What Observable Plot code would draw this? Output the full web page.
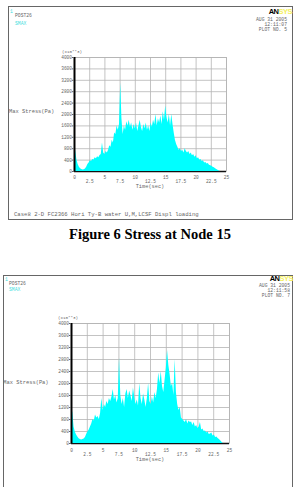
<!DOCTYPE html>
<html><head><meta charset="utf-8">
<script src="https://cdn.jsdelivr.net/npm/d3@7"></script>
<script src="https://cdn.jsdelivr.net/npm/@observablehq/plot@0.6"></script>
<style>
body{margin:0;width:295px;height:487px;position:relative;overflow:hidden;background:#fff;font-family:"Liberation Mono",monospace;}
.frame{position:absolute;border:1.5px solid #666;box-sizing:border-box;}
.t{position:absolute;white-space:nowrap;color:#666;line-height:1;}
.c{color:#4dd;}
.logo{position:absolute;font-family:"Liberation Sans",Arial,sans-serif;font-weight:bold;font-size:7.5px;line-height:1;letter-spacing:-0.5px;}
.chart{position:absolute;left:0;}
.cap{position:absolute;left:0;width:300px;text-align:center;font-family:"Liberation Serif","Times New Roman",serif;font-weight:bold;font-size:14.5px;line-height:1;color:#000;}
</style></head><body>
<script>
const times = [0,0.2,0.4,0.6,0.8,1,1.2,1.4,1.6,1.8,2,2.2,2.4,2.6,2.8,3,3.2,3.4,3.6,3.8,4,4.2,4.4,4.6,4.8,5,5.2,5.4,5.6,5.8,6,6.2,6.4,6.6,6.8,7,7.2,7.4,7.6,7.8,8,8.2,8.4,8.6,8.8,9,9.2,9.4,9.6,9.8,10,10.2,10.4,10.6,10.8,11,11.2,11.4,11.6,11.8,12,12.2,12.4,12.6,12.8,13,13.2,13.4,13.6,13.8,14,14.2,14.4,14.6,14.8,15,15.2,15.4,15.6,15.8,16,16.2,16.4,16.6,16.8,17,17.2,17.4,17.6,17.8,18,18.2,18.4,18.6,18.8,19,19.2,19.4,19.6,19.8,20,20.2,20.4,20.6,20.8,21,21.2,21.4,21.6,21.8,22,22.2,22.4,22.6,22.8,23,23.2,23.4,23.6,23.8,24];

const stress1 = [1000,700,400,250,150,100,70,50,60,90,
150,250,300,380,350,420,400,480,450,520,
480,560,600,1000,650,600,700,650,750,900,
850,1100,1000,1350,1300,1600,1450,1650,3100,1850,
1300,1600,1450,1750,1600,1800,1550,1700,1450,1650,
1500,1700,1400,1600,1800,1550,1400,1650,1500,1700,
1450,1600,1400,1700,1550,1800,1650,2000,1600,1850,
1700,1950,1650,2100,1800,2300,1900,1700,2000,1600,
2000,1650,1350,1100,950,850,750,800,700,750,
650,800,700,650,700,600,650,550,600,500,
550,450,480,400,420,350,380,300,320,260,
280,220,200,180,150,130,100,70,40,20,
0];

const stress2 = [1000,1050,550,380,280,220,160,130,120,130,
150,200,300,380,450,550,650,800,750,950,
850,900,800,1000,1500,1100,1300,1200,1400,1300,
1500,1400,1550,1800,1450,1600,1350,1500,2850,1600,
1300,1500,1200,1650,1800,1500,1750,1600,1400,1850,
1550,1300,1450,1250,2000,1500,1300,1650,1450,1200,
1500,2000,1400,1300,1550,1350,1700,1500,1800,2350,
2000,2400,1900,1700,2100,2500,3100,2600,2300,1900,
2000,1600,2800,1700,1300,1100,1200,850,800,750,
700,800,650,750,700,720,600,700,550,600,
500,550,700,450,480,400,420,350,380,300,
320,350,250,280,200,220,170,130,90,40,
0];

const yTicks = [0,400,800,1200,1600,2000,2400,2800,3200,3600,4000];
const xTicksMajor = [0,5,10,15,20,25];
const xTicksMinor = [2.5,7.5,12.5,17.5,22.5];
const xGrid = [0,2.5,5,7.5,10,12.5,15,17.5,20,22.5,25];

const yUnitLabel = "(x10**3)";
const yTitle = "Max Stress(Pa)";
const xTitle = "Time(sec)";
const caption = "Figure 6 Stress at Node 15";
const footer1 = "Case8 2-D FC2366 Hori Ty-B water U,M,LCSF Displ loading";
const dates = ["AUG 31 2005","AUG 31 2005"];
const clock = ["12:11:07","12:11:58"];
const plotNo = ["PLOT NO.   5","PLOT NO.   7"];

function el(tag, cls, text, css) {
  const e = document.createElement(tag);
  if (cls) e.className = cls;
  if (text != null) e.textContent = text;
  Object.assign(e.style, css || {});
  document.body.appendChild(e);
  return e;
}

function chart(values, o) {
  const data = times.map((t, i) => ({t, v: values[i]}));
  const svg = Plot.plot({
    width: 295, height: o.height,
    marginLeft: o.ml, marginRight: o.mr, marginTop: o.mt, marginBottom: o.mb,
    x: {domain: [0, 25]},
    y: {domain: [0, 4000]},
    style: {fontFamily: "'Liberation Mono', monospace", fontSize: "4.5px", color: "#666", background: "transparent", overflow: "visible"},
    marks: [
      Plot.gridX({ticks: xGrid, stroke: "#b4b4b4", strokeOpacity: 1, strokeWidth: 0.8}),
      Plot.gridY({ticks: yTicks, stroke: "#b4b4b4", strokeOpacity: 1, strokeWidth: 0.8}),
      Plot.frame({stroke: "#b4b4b4", strokeWidth: 0.8}),
      Plot.ruleY([0], {stroke: "#111", strokeWidth: 1.6}),
      Plot.areaY(data, {x: "t", y: "v", fill: "#00ffff"}),
      Plot.ruleX([0], {stroke: "#000", strokeWidth: 2}),
      Plot.axisY({ticks: yTicks, tickSize: 2, tickPadding: 0.5, label: null, tickFormat: d => String(d)}),
      Plot.axisX({ticks: xTicksMajor, tickSize: 0, tickPadding: o.p1, label: null, tickFormat: d => String(d)}),
      Plot.axisX({ticks: xTicksMinor, tickSize: 0, tickPadding: o.p2, label: null, tickFormat: d => String(d)})
    ]
  });
  svg.classList.add("chart");
  svg.style.top = o.top + "px";
  document.body.appendChild(svg);
}

// ---- Panel 1 ----
el("div", "frame", null, {left: "8px", top: "6px", width: "285px", height: "214px"});
el("div", "t c", "1", {left: "10px", top: "9.5px", fontSize: "4.7px"});
el("div", "t", "POST26", {left: "15px", top: "13.6px", fontSize: "4.7px"});
el("div", "t c", "SMAX", {left: "15px", top: "21.6px", fontSize: "4.7px"});
const lg1 = el("div", "logo", null, {right: "3px", top: "7.5px"});
lg1.innerHTML = '<span style="color:#000">AN</span><span style="color:#f4f060">SYS</span>';
el("div", "t", dates[0], {right: "8px", top: "17.6px", fontSize: "4.7px"});
el("div", "t", clock[0], {right: "8px", top: "22.6px", fontSize: "4.7px"});
el("div", "t", plotNo[0], {right: "8px", top: "27.6px", fontSize: "4.7px"});
el("div", "t", yUnitLabel, {left: "62px", top: "49.7px", fontSize: "4.2px"});
el("div", "t", yTitle, {left: "9px", top: "110.3px", fontSize: "5.4px"});
el("div", "t", xTitle, {left: "150px", top: "185.3px", fontSize: "5.3px", transform: "translateX(-50%)"});
el("div", "t", footer1, {left: "14px", top: "212.2px", fontSize: "5.6px"});
chart(stress1, {top: 40, height: 160, ml: 74, mr: 69, mt: 17, mb: 29, p1: 4, p2: 8.5});

el("div", "cap", caption, {top: "227px"});

// ---- Panel 2 ----
el("div", "frame", null, {left: "3px", top: "275px", width: "290px", height: "230px"});
el("div", "t c", "1", {left: "5px", top: "277.5px", fontSize: "4.7px"});
el("div", "t", "POST26", {left: "9px", top: "281.6px", fontSize: "4.7px"});
el("div", "t c", "SMAX", {left: "9px", top: "288px", fontSize: "4.7px"});
const lg2 = el("div", "logo", null, {right: "2px", top: "275.3px"});
lg2.innerHTML = '<span style="color:#000">AN</span><span style="color:#f4f060">SYS</span>';
el("div", "t", dates[1], {right: "5px", top: "284.2px", fontSize: "4.7px"});
el("div", "t", clock[1], {right: "5px", top: "289px", fontSize: "4.7px"});
el("div", "t", plotNo[1], {right: "5px", top: "293.8px", fontSize: "4.7px"});
el("div", "t", yUnitLabel, {left: "58px", top: "315.8px", fontSize: "4.2px"});
el("div", "t", yTitle, {left: "3.3px", top: "381.3px", fontSize: "5.4px"});
el("div", "t", xTitle, {left: "150px", top: "458.3px", fontSize: "5.3px", transform: "translateX(-50%)"});
chart(stress2, {top: 300, height: 165, ml: 71, mr: 66, mt: 23, mb: 22, p1: 5, p2: 9.5});
</script>
</body></html>
